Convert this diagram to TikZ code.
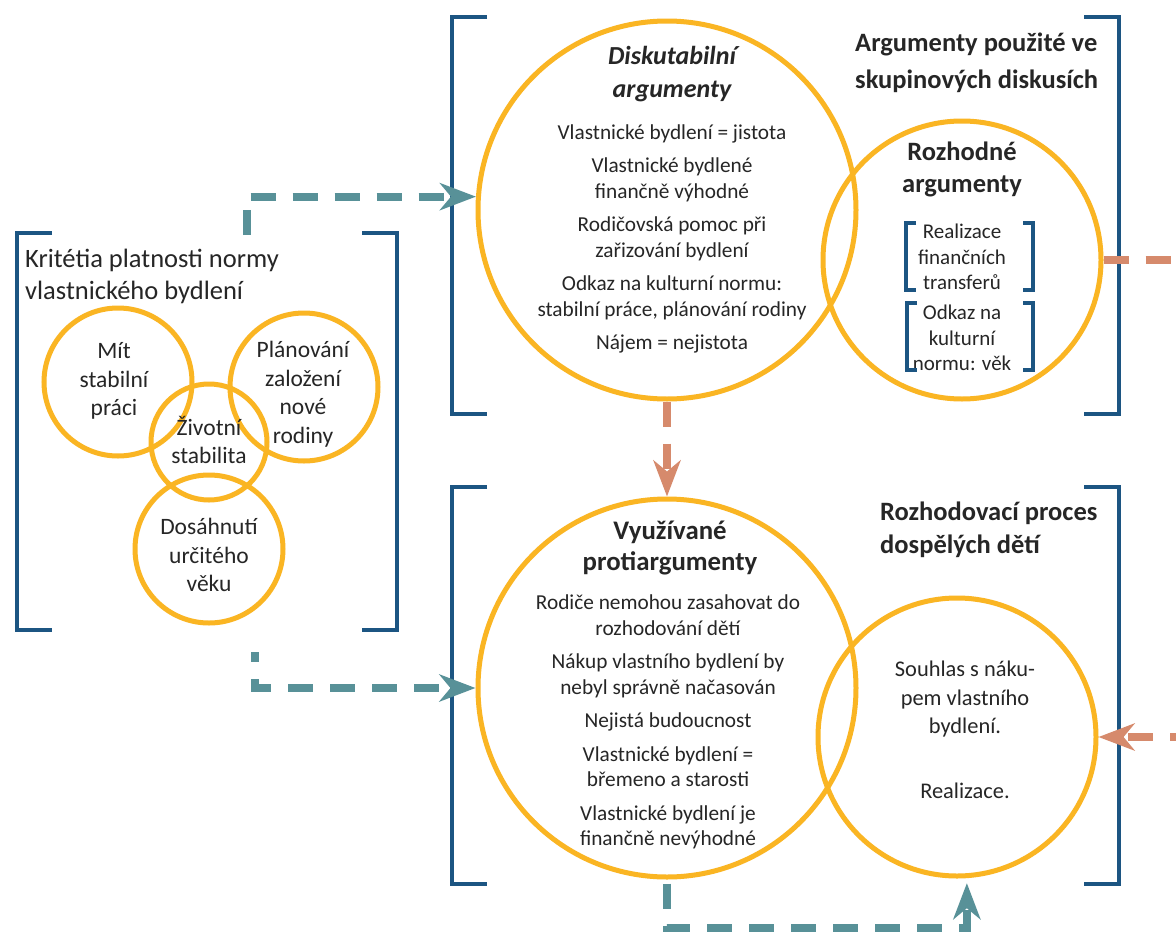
\documentclass[tikz,border=0pt]{standalone}
\usepackage{fontspec}
\setmainfont{Carlito}
\usetikzlibrary{arrows.meta,calc}
\definecolor{ringc}{RGB}{250,181,35}
\definecolor{bluec}{RGB}{28,85,130}
\definecolor{tealc}{RGB}{88,145,152}
\definecolor{orangec}{RGB}{214,138,108}
\definecolor{ink}{RGB}{38,38,38}
\tikzset{
  ring/.style={circle, draw=ringc, line width=5pt, inner sep=0pt},
  frame/.style={rectangle, inner sep=0pt, outer sep=0pt},
  bracket/.style={draw=bluec, line width=3.5pt, line join=miter},
  txt/.style={text=ink, align=center, inner sep=0pt},
  venn/.style={txt, font=\fontsize{23.5}{28.5}\selectfont},
  body/.style={txt, font=\fontsize{21.3}{25.5}\selectfont},
  small/.style={txt, font=\fontsize{21}{25.5}\selectfont},
  head/.style={txt, font=\bfseries\fontsize{26.5}{32}\selectfont},
  title/.style={text=ink, align=left, inner sep=0pt, anchor=west},
  tealflow/.style={draw=tealc, line width=8pt, dash pattern=on 25pt off 17pt,
    -{Stealth[length=36pt,width=27pt,inset=11pt,fill=tealc]}},
  orangeflow/.style={draw=orangec, line width=8pt, dash pattern=on 25pt off 17pt,
    -{Stealth[length=36pt,width=27pt,inset=11pt,fill=orangec]}},
}
\begin{document}
\begin{tikzpicture}[x=1pt,y=-1pt]
\useasboundingbox (0,0) rectangle (1176,932);
\fill[white] (0,0) rectangle (1176,932);

% bracketed frames
\node[frame, minimum width=380pt, minimum height=397pt] (critbox) at (207,431.5) {};
\node[frame, minimum width=667pt, minimum height=397pt] (argbox) at (785.5,215.5) {};
\node[frame, minimum width=667pt, minimum height=397pt] (procbox) at (785.5,685.5) {};
\foreach \b in {critbox,argbox,procbox}{
  \draw[bracket] ([xshift=35pt]\b.north west) -- (\b.north west) -- (\b.south west) -- ([xshift=35pt]\b.south west);
  \draw[bracket] ([xshift=-35pt]\b.north east) -- (\b.north east) -- (\b.south east) -- ([xshift=-35pt]\b.south east);
}

% criteria of the norm
\node[title, font=\fontsize{26.5}{32}\selectfont] (crittitle) at (25,276)
  {Kritétia platnosti normy\\vlastnického bydlení};
\node[ring, minimum size=148pt] (mit) at (118,382) {};
\node[ring, minimum size=148pt] (plan) at (304,387) {};
\node[ring, minimum size=116pt] (zivot) at (209,442) {};
\node[ring, minimum size=148pt] (dos) at (209,549) {};
\node[venn] (mittxt) at (114,381) {Mít\\stabilní\\práci};
\node[venn] (plantxt) at (303,394) {Plánování\\založení\\nové\\rodiny};
\node[venn] (zivottxt) at (209,440) {Životní\\stabilita};
\node[venn] (dostxt) at (209,555) {Dosáhnutí\\určitého\\věku};

% arguments used in group discussions
\node[title, font=\bfseries\fontsize{26.5}{37}\selectfont] (argtitle) at (855,63)
  {Argumenty použité ve\\skupinových diskusích};
\node[ring, minimum size=378pt] (disk) at (667,210) {};
\node[ring, minimum size=278pt] (decis) at (962,260) {};
\node[head, font=\bfseries\itshape\fontsize{26}{33}\selectfont] (disktitle) at (672,74)
  {Diskutabilní\\argumenty};
\node[body] (disktxt) at (672,239) {Vlastnické bydlení = jistota\\[8pt]
  Vlastnické bydlené\\finančně výhodné\\[8pt]
  Rodičovská pomoc při\\zařizování bydlení\\[8pt]
  Odkaz na kulturní normu:\\stabilní práce, plánování rodiny\\[8pt]
  Nájem = nejistota};
\node[head] (decistitle) at (962,169) {Rozhodné\\argumenty};
\node[small] (transfer) at (962,257) {Realizace\\finančních\\transferů};
\node[small] (agenorm) at (962,338) {Odkaz na\\kulturní\\normu: věk};
\node[frame, minimum width=127pt, minimum height=67pt] (tb1) at (969.5,256.5) {};
\node[frame, minimum width=126pt, minimum height=67pt] (tb2) at (970,336.5) {};
\foreach \b in {tb1,tb2}{
  \draw[bracket] ([xshift=10pt]\b.north west) -- (\b.north west) -- (\b.south west) -- ([xshift=10pt]\b.south west);
  \draw[bracket] ([xshift=-10pt]\b.north east) -- (\b.north east) -- (\b.south east) -- ([xshift=-10pt]\b.south east);
}

% decision process of adult children
\node[title, font=\bfseries\fontsize{26.5}{33}\selectfont] (proctitle) at (880,530)
  {Rozhodovací proces\\dospělých dětí};
\node[ring, minimum size=378pt] (used) at (667,688) {};
\node[ring, minimum size=278pt] (consent) at (957,737) {};
\node[head, font=\bfseries\fontsize{26.8}{31}\selectfont] (usedtitle) at (670,548)
  {Využívané\\protiargumenty};
\node[body] (usedtxt) at (668,722) {Rodiče nemohou zasahovat do\\rozhodování dětí\\[8pt]
  Nákup vlastního bydlení by\\nebyl správně načasován\\[8pt]
  Nejistá budoucnost\\[8pt]
  Vlastnické bydlení =\\břemeno a starosti\\[8pt]
  Vlastnické bydlení je\\finančně nevýhodné};
\node[venn, font=\fontsize{22.4}{28.5}\selectfont] (consenttxt) at (965,730)
  {Souhlas s náku-\\pem vlastního\\bydlení.\\[36pt]Realizace.};

% flows
\coordinate (critout) at (247,235);
\coordinate (critlow) at (255,652);
\draw[tealflow] (critout) |- (disk.176);
\draw[tealflow, dash phase=15pt] (critlow) |- (used.west);
\draw[tealflow, shorten <=4pt, shorten >=5pt] (used.south) -- ++(0,48) -| (consent.-86);
\draw[orangeflow] (disk.south) -- (used.north);
\draw[orangeflow] (decis.east) -- ++(80,0) |- (consent.east);
\end{tikzpicture}
\end{document}
